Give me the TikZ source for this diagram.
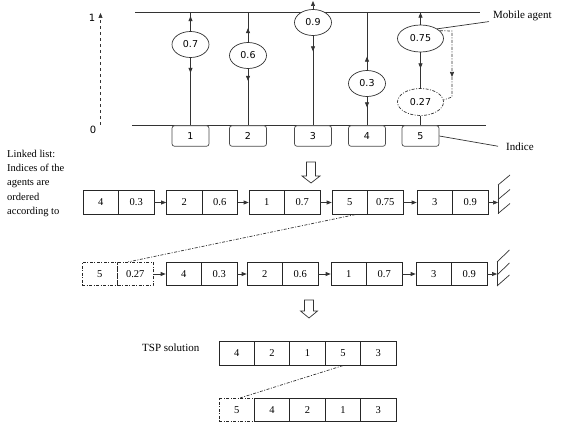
\documentclass[tikz,border=0pt]{standalone}
\usepackage{fontspec}
\setmainfont{Liberation Serif}
\newfontfamily\sansf{DejaVu Sans}
\usetikzlibrary{arrows.meta,shapes.geometric,calc}
\begin{document}
\begin{tikzpicture}[x=1pt,y=-1pt,
  ln/.style={line width=0.7pt, draw=black!80},
  arr/.style={ln,-{Triangle[length=5pt,width=4pt]}},
  agent/.style={ellipse, draw=black!80, line width=0.7pt, fill=white, minimum width=37pt, minimum height=26pt, inner sep=0pt, font=\sansf\fontsize{9.5}{10}\selectfont},
  bigagent/.style={agent, minimum width=46pt, minimum height=27pt},
  idx/.style={rectangle, rounded corners=2.5pt, draw=black!70, line width=0.7pt, fill=white, minimum width=37pt, minimum height=20.5pt, inner sep=0pt, font=\sansf\fontsize{9.5}{10}\selectfont},
  cell/.style={rectangle, draw=black!85, line width=0.7pt, minimum width=35.5pt, minimum height=23.5pt, inner sep=0pt, font=\fontsize{10.5}{12}\selectfont},
  tcell/.style={cell, minimum width=35.4pt},
  dd/.style={dash pattern=on 3pt off 1.5pt on 1pt off 1.5pt},
  lbl/.style={inner sep=0pt, font=\fontsize{11}{13}\selectfont},
  axl/.style={inner sep=0pt, font=\sansf\fontsize{10}{12}\selectfont}
]
\useasboundingbox (0,0) rectangle (563,436);

% ---------- top: agents on [0,1] ----------
\draw[ln] (135,12) -- (480,12);
\draw[ln] (132,125.5) -- (486,125.5);

\coordinate (t1) at (190.5,12);
\coordinate (t2) at (248,12);
\coordinate (t3) at (313,12);
\coordinate (t4) at (367,12);
\coordinate (t5) at (420.5,12);

\node[idx] (i1) at (190.5,136) {1};
\node[idx] (i2) at (248,136) {2};
\node[idx] (i3) at (313,136) {3};
\node[idx] (i4) at (367,136) {4};
\node[idx] (i5) at (420.5,136) {5};

\node[agent] (e1) at (190.5,44.5) {0.7};
\node[agent] (e2) at (248,55.5) {0.6};
\node[agent] (e3) at (313,22.5) {0.9};
\node[agent] (e4) at (367,83.5) {0.3};
\node[bigagent] (e5) at (420.5,38.5) {0.75};
\node[bigagent, dd] (e6) at (420.5,102) {0.27};

\draw[ln] (i1.north) -- (e1.south); \draw[ln] (e1.north) -- (t1);
\draw[ln] (i2.north) -- (e2.south); \draw[ln] (e2.north) -- (t2);
\draw[ln] (i3.north) -- (e3.south);
\draw[ln] (i4.north) -- (e4.south); \draw[ln] (e4.north) -- (t4);
\draw[ln] (i5.north) -- (e6.south); \draw[ln] (e6.north) -- (e5.south); \draw[ln] (e5.north) -- (t5);

\draw[arr] (e1.north) -- ++(0,-15);
\draw[arr] (e1.south) -- ++(0,15);
\draw[arr] (e2.north) -- ++(0,-14);
\draw[arr] (e2.south) -- ++(0,12);
\coordinate (t3up) at (313,1);
\draw[arr] (e3.north) -- (t3up);
\draw[arr] (e3.south) -- ++(0,15.5);
\draw[arr] (e4.north) -- ++(0,-13.5);
\draw[arr] (e4.south) -- ++(0,10.5);
\draw[arr] (e5.north) -- ++(0,-12);
\draw[arr] (e5.south) -- ++(0,16);

\coordinate (c1) at (452,31);
\coordinate (c3) at (452,77);
\coordinate (c2) at (452,97);
\draw[ln,dd,-{Triangle[length=5pt,width=4pt]}] (e5.22) -- (c1) -- (c3);
\draw[ln,dd] (c3) -- (c2) -- (e6.5);

\coordinate (a0) at (100.5,125);
\coordinate (a1) at (100.5,13);
\draw[ln,dashed,-{Triangle[length=5pt,width=4pt]}] (a0) -- (a1);
\node[axl] (l1) at (92,18) {1};
\node[axl] (l0) at (93,130) {0};

\node[lbl, anchor=base west] (ma) at (493,19) {Mobile agent};
\draw[ln] (e5.30) -- ([xshift=-4pt]ma.south west);
\node[lbl, anchor=base west] (ind) at (506,150) {Indice};
\draw[ln] (i5.east) -- ([xshift=-8pt]ind.west);

% ---------- hollow arrow 1 ----------
\draw[ln, fill=white] (306.5,162) -- (315.5,162) -- (315.5,176) -- (320,176) -- (311,183) -- (302,176) -- (306.5,176) -- cycle;

% ---------- linked list ----------
\node[anchor=north west, align=left, inner sep=0pt, font=\fontsize{10.5}{14.2}\selectfont] (ll) at (7,150) {Linked list:\\Indices of the\\agents are\\ordered\\according to};

% row 1
\node[cell] (r1a) at (100.75,202.5) {4};
\node[cell] (r1b) at (136.25,202.5) {0.3};
\node[cell] (r1c) at (184.25,202.5) {2};
\node[cell] (r1d) at (219.75,202.5) {0.6};
\node[cell] (r1e) at (266.75,202.5) {1};
\node[cell] (r1f) at (302.25,202.5) {0.7};
\node[cell] (r1g) at (349.75,202.5) {5};
\node[cell] (r1h) at (385.25,202.5) {0.75};
\node[cell] (r1i) at (434.75,202.5) {3};
\node[cell] (r1j) at (470.25,202.5) {0.9};
\coordinate (g1) at (498,202.5);
\draw[arr] (r1b.east) -- (r1c.west);
\draw[arr] (r1d.east) -- (r1e.west);
\draw[arr] (r1f.east) -- (r1g.west);
\draw[arr] (r1h.east) -- (r1i.west);
\draw[arr] (r1j.east) -- (g1);
\draw[ln] ($(g1)+(0,-17.5)$) -- ($(g1)+(0,11.5)$);
\draw[ln] ($(g1)+(0,-17.5)$) -- ++(12,-10);
\draw[ln] ($(g1)+(0,-3)$) -- ++(12,-10);
\draw[ln] ($(g1)+(0,11)$) -- ++(12,-10);

% row 2
\node[cell, dd] (r2a) at (99.75,274) {5};
\node[cell, dd] (r2b) at (135.25,274) {0.27};
\node[cell] (r2c) at (183.75,274) {4};
\node[cell] (r2d) at (219.25,274) {0.3};
\node[cell] (r2e) at (264.75,274) {2};
\node[cell] (r2f) at (300.25,274) {0.6};
\node[cell] (r2g) at (348.75,274) {1};
\node[cell] (r2h) at (384.25,274) {0.7};
\node[cell] (r2i) at (433.75,274) {3};
\node[cell] (r2j) at (469.25,274) {0.9};
\coordinate (g2) at (497,274);
\draw[arr] (r2b.east) -- (r2c.west);
\draw[arr] (r2d.east) -- (r2e.west);
\draw[arr] (r2f.east) -- (r2g.west);
\draw[arr] (r2h.east) -- (r2i.west);
\draw[arr] (r2j.east) -- (g2);
\draw[ln] ($(g2)+(0,-13)$) -- ($(g2)+(0,12)$);
\draw[ln] ($(g2)+(0,-12)$) -- ++(12.5,-12);
\draw[ln] ($(g2)+(0,1)$) -- ++(12.5,-12);
\draw[ln] ($(g2)+(0,12)$) -- ++(12.5,-11);

\draw[ln,dd] ([xshift=5.5pt]r1g.south) -- ([xshift=-7pt]r2b.north);

% ---------- hollow arrow 2 ----------
\draw[ln, fill=white] (304.5,300) -- (313.5,300) -- (313.5,311) -- (317.5,311) -- (309,318) -- (300.5,311) -- (304.5,311) -- cycle;

% ---------- TSP solution ----------
\node[lbl, anchor=base west] (tsp) at (142,351) {TSP solution};

\node[tcell] (r3a) at (236.7,353.5) {4};
\node[tcell] (r3b) at (272.1,353.5) {2};
\node[tcell] (r3c) at (307.5,353.5) {1};
\node[tcell] (r3d) at (342.9,353.5) {5};
\node[tcell] (r3e) at (378.3,353.5) {3};

\node[tcell, dd] (r4a) at (236.7,410) {5};
\node[tcell] (r4b) at (272.1,410) {4};
\node[tcell] (r4c) at (307.5,410) {2};
\node[tcell] (r4d) at (342.9,410) {1};
\node[tcell] (r4e) at (378.3,410) {3};

\draw[ln,dd] (r3d.south) -- ([xshift=3.5pt]r4a.north);
\end{tikzpicture}
\end{document}
